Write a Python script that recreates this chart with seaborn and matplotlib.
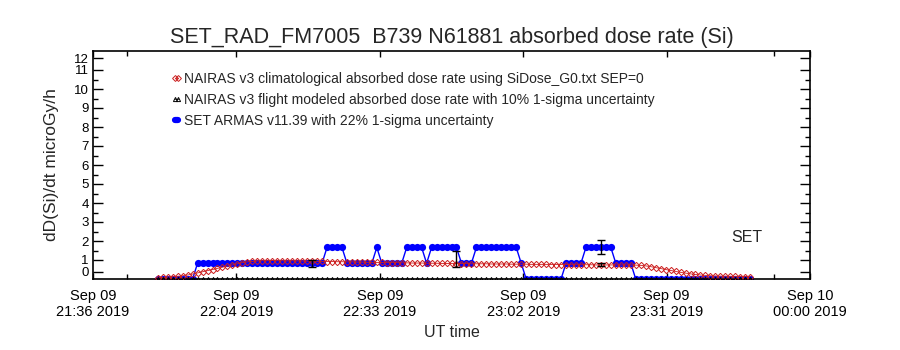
import numpy as np
import pandas as pd
import matplotlib
matplotlib.use("Agg")
import matplotlib.pyplot as plt
from matplotlib.lines import Line2D
import seaborn as sns

# ---- data -------------------------------------------------------------
start_time = pd.Timestamp("2019-09-09 21:36")
end_time = pd.Timestamp("2019-09-10 00:00")

# sample times, minutes after 21:36 UT
sample_minutes = list(range(13, 133))

# SET ARMAS v11.39 measured absorbed dose rate (microGy/h)
set_values = [
    0.0, 0.0, 0.0, 0.0, 0.0, 0.0, 0.0, 0.0,                       # 13-20
    0.83, 0.83, 0.83, 0.83, 0.83, 0.83, 0.83, 0.83, 0.83, 0.83,   # 21-30
    0.83, 0.83, 0.83, 0.83, 0.83, 0.83, 0.83, 0.83, 0.83, 0.83,   # 31-40
    0.83, 0.83, 0.83, 0.83, 0.83, 0.83, 1.66, 1.66, 1.66, 1.66,   # 41-50
    0.83, 0.83, 0.83, 0.83, 0.83, 0.83, 1.66, 0.83, 0.83, 0.83,   # 51-60
    0.83, 0.83, 1.66, 1.66, 1.66, 1.66, 0.83, 1.66, 1.66, 1.66,   # 61-70
    1.66, 1.66, 1.66, 0.83, 0.83, 0.83, 1.66, 1.66, 1.66, 1.66,   # 71-80
    1.66, 1.66, 1.66, 1.66, 1.66, 0.83, 0.0, 0.0, 0.0, 0.0,       # 81-90
    0.0, 0.0, 0.0, 0.0, 0.83, 0.83, 0.83, 0.83, 1.66, 1.66,       # 91-100
    1.66, 1.66, 1.66, 1.66, 0.83, 0.83, 0.83, 0.83, 0.0, 0.0,     # 101-110
    0.0, 0.0, 0.0, 0.0, 0.0, 0.0, 0.0, 0.0, 0.0, 0.0,             # 111-120
    0.0, 0.0, 0.0, 0.0, 0.0, 0.0, 0.0, 0.0, 0.0, 0.0, 0.0, 0.0,   # 121-132
]

# NAIRAS v3 climatological absorbed dose rate (SiDose_G0.txt, SEP=0)
clim_values = [
    0.07, 0.08, 0.10, 0.12, 0.14, 0.17, 0.21, 0.26,
    0.32, 0.38, 0.44, 0.50, 0.56, 0.62, 0.68, 0.74, 0.80, 0.86,
    0.90, 0.93, 0.95, 0.96, 0.96, 0.97, 0.96, 0.96, 0.95, 0.96,
    0.95, 0.95, 0.94, 0.94, 0.93, 0.93, 0.92, 0.92, 0.91, 0.91,
    0.90, 0.90, 0.89, 0.89, 0.88, 0.88, 0.87, 0.87, 0.86, 0.86,
    0.86, 0.85, 0.85, 0.84, 0.84, 0.84, 0.83, 0.83, 0.83, 0.82,
    0.82, 0.82, 0.81, 0.81, 0.81, 0.80, 0.80, 0.80, 0.80, 0.79,
    0.79, 0.79, 0.79, 0.78, 0.78, 0.78, 0.78, 0.77, 0.77, 0.77,
    0.77, 0.76, 0.76, 0.76, 0.76, 0.75, 0.75, 0.75, 0.75, 0.75,
    0.74, 0.74, 0.74, 0.74, 0.74, 0.74, 0.74, 0.74, 0.73, 0.72,
    0.69, 0.65, 0.60, 0.55, 0.50, 0.45, 0.40, 0.35, 0.31, 0.27,
    0.24, 0.21, 0.19, 0.17, 0.16, 0.15, 0.15, 0.14, 0.14, 0.13, 0.13, 0.13,
]

# NAIRAS v3 flight modeled absorbed dose rate
flight_values = [
    0.0, 0.0, 0.0, 0.0, 0.0, 0.0, 0.0, 0.0, 0.0, 0.0, 0.0, 0.0, 0.0, 0.0, 0.0, 0.0, 0.0, 0.0, 0.0, 0.0,
    0.0, 0.0, 0.0, 0.0, 0.0, 0.0, 0.0, 0.0, 0.0, 0.0, 0.0, 0.0, 0.0, 0.0, 0.0, 0.0, 0.0, 0.0, 0.0, 0.0,
    0.0, 0.0, 0.0, 0.0, 0.0, 0.0, 0.0, 0.0, 0.0, 0.0, 0.0, 0.0, 0.0, 0.0, 0.0, 0.0, 0.0, 0.0, 0.0, 0.0,
    0.0, 0.0, 0.0, 0.0, 0.0, 0.0, 0.0, 0.0, 0.0, 0.0, 0.0, 0.0, 0.0, 0.0, 0.0, 0.0, 0.0, 0.0, 0.0, 0.0,
    0.0, 0.0, 0.0, 0.0, 0.0, 0.0, 0.0, 0.0, 0.0, 0.0, 0.0, 0.0, 0.0, 0.0, 0.0, 0.0, 0.0, 0.0, 0.0, 0.0,
    0.0, 0.0, 0.0, 0.0, 0.0, 0.0, 0.0, 0.0, 0.0, 0.0, 0.0, 0.0, 0.0, 0.0, 0.0, 0.0, 0.0, 0.0, 0.0, 0.0,
]

# 1-sigma uncertainty bars
err_minutes = [44, 73, 102, 102]
err_values = [0.83, 1.05, 1.66, 0.74]
err_sigma = [0.18, 0.40, 0.37, 0.08]

x_tick_labels = ["Sep 09\n21:36 2019", "Sep 09\n22:04 2019", "Sep 09\n22:33 2019",
                 "Sep 09\n23:02 2019", "Sep 09\n23:31 2019", "Sep 10\n00:00 2019"]
y_tick_labels = ["0", "1", "2", "3", "4", "5", "6", "7", "8", "9", "10", "11", "12"]

legend_labels = [
    "NAIRAS v3 climatological absorbed dose rate using SiDose_G0.txt SEP=0",
    "NAIRAS v3 flight modeled absorbed dose rate with 10% 1-sigma uncertainty",
    "SET ARMAS v11.39 with 22% 1-sigma uncertainty",
]

# ---- figure -----------------------------------------------------------
sns.set_style("ticks")
plt.rcParams["font.family"] = ["Liberation Sans", "DejaVu Sans"]

times = start_time + pd.to_timedelta(sample_minutes, unit="m")
err_times = start_time + pd.to_timedelta(err_minutes, unit="m")
df = pd.DataFrame({"time": times, "set": set_values,
                   "clim": clim_values, "flight": flight_values})

fig = plt.figure(figsize=(9, 3.5), dpi=100)
ax = fig.add_axes([93 / 900, 1 - 279 / 350, 717 / 900, 228 / 350])

blue = "#0000ff"
red = "#cc2020"

sns.lineplot(data=df, x="time", y="set", ax=ax, color=blue, linewidth=1.0,
             marker="o", markersize=5.2, markeredgewidth=0, estimator=None,
             zorder=2)
sns.lineplot(data=df, x="time", y="clim", ax=ax, color=red, linewidth=0.6,
             marker="D", markersize=3.2, markerfacecolor="none",
             markeredgecolor=red, markeredgewidth=0.7, estimator=None,
             zorder=3)
sns.lineplot(data=df, x="time", y="flight", ax=ax, color="black", linewidth=0.8,
             marker="^", markersize=3.0, markerfacecolor="none",
             markeredgecolor="black", markeredgewidth=0.7, estimator=None,
             zorder=4)
ax.errorbar(err_times, err_values, yerr=err_sigma, fmt="none", ecolor="black",
            elinewidth=1.0, capsize=3, capthick=1.0, zorder=5)

# axes limits and ticks
ax.set_xlim(start_time, end_time)
ax.set_ylim(0, 12)
ax.set_xticks(pd.date_range(start_time, end_time, periods=6))
ax.set_xticklabels(x_tick_labels, linespacing=1.25)
ax.set_xticks([start_time + pd.Timedelta(minutes=6.8),
               start_time + pd.Timedelta(minutes=136.8)], minor=True)
ax.set_yticks([0.37] + list(range(1, 12)) + [11.63])
ax.set_yticklabels(y_tick_labels)
ax.set_yticks([v + 0.5 for v in range(1, 11)], minor=True)

ax.tick_params(axis="both", which="both", direction="in", top=True,
               right=True, colors="black", width=1.0)
ax.tick_params(axis="y", which="major", length=7.5, labelsize=9.5, pad=3)
ax.tick_params(axis="y", which="minor", length=3.8)
ax.tick_params(axis="x", which="major", length=4.5, labelsize=10.5, pad=7)
ax.tick_params(axis="x", which="minor", length=3.5)
for spine in ax.spines.values():
    spine.set_visible(True)
    spine.set_linewidth(1.2)
    spine.set_color("black")

ax.set_xlabel("UT time", fontsize=11.5, labelpad=4)
ax.set_ylabel("dD(Si)/dt microGy/h", fontsize=12.5, labelpad=11)
ax.set_title("SET_RAD_FM7005  B739 N61881 absorbed dose rate (Si)",
             fontsize=15.5, pad=6)

ax.text(0.912, 0.183, "SET", transform=ax.transAxes, fontsize=11.5,
        ha="center", va="center")

handles = [
    Line2D([], [], color=red, lw=0.6, marker="D", markersize=3,
           markerfacecolor="none", markeredgewidth=0.7),
    Line2D([], [], color="black", lw=0.6, marker="^", markersize=3,
           markerfacecolor="none", markeredgewidth=0.7),
    Line2D([], [], color=blue, lw=4.5),
]
ax.legend(handles, legend_labels, loc="upper left",
          bbox_to_anchor=(171 / 900, 1 - 72 / 350), bbox_transform=fig.transFigure,
          frameon=False, fontsize=10, handlelength=0.8, handletextpad=0.1,
          labelspacing=0.5, borderaxespad=0, borderpad=0, numpoints=2)

fig.savefig("out.png", dpi=100)
